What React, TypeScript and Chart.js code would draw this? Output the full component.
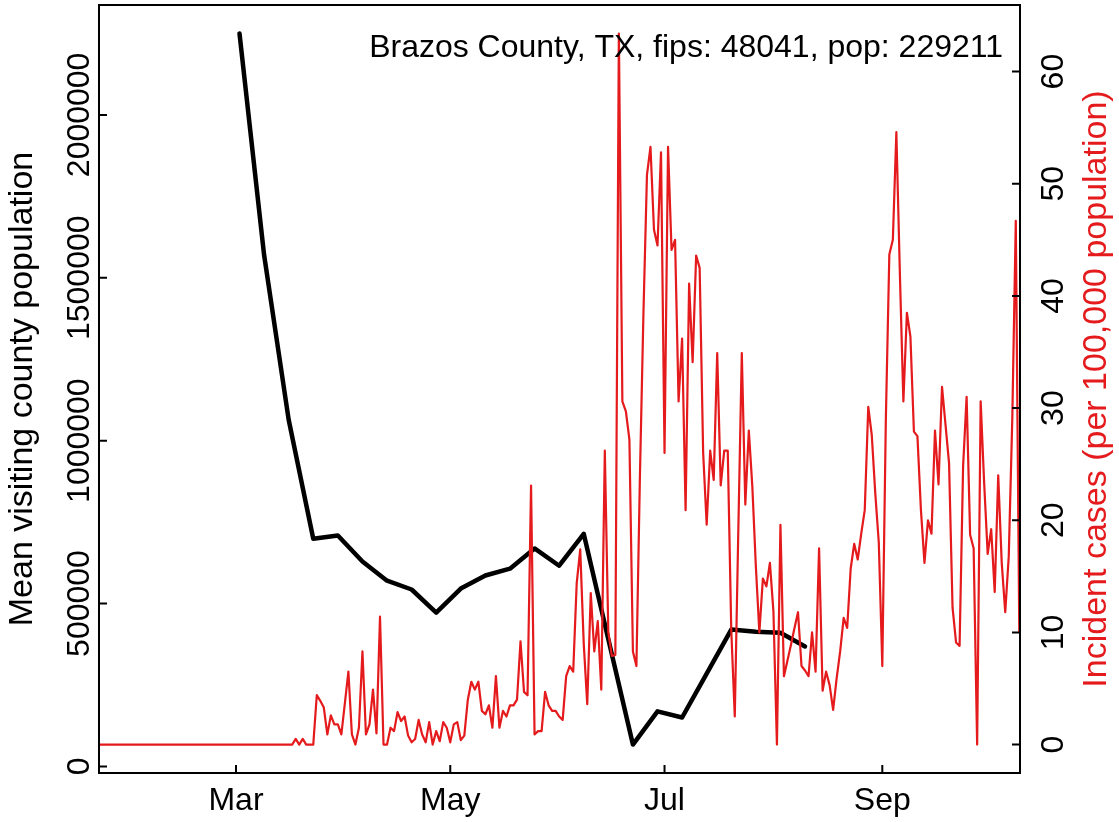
import React, { useEffect, useRef } from "react";
import { Chart, registerables } from "chart.js";

Chart.register(...registerables);

// Day numbers are counted from 1 March 2020 (day 0). The case series starts on 22 Jan 2020.
const caseStartDay = -39;

// Incident cases per 100,000 population, one value per day (22 Jan .. 10 Oct)
const incidentCases = [
  0, 0, 0, 0, 0, 0, 0, 0, 0, 0,
  0, 0, 0, 0, 0, 0, 0, 0, 0, 0,
  0, 0, 0, 0, 0, 0, 0, 0, 0, 0,
  0, 0, 0, 0, 0, 0, 0, 0, 0, 0,
  0, 0, 0, 0, 0, 0, 0, 0, 0, 0,
  0, 0, 0, 0, 0, 0,
  0.5, 0, 0.5, 0, 0, 0, 4.4, 3.9, 3.3, 0.9, 2.6, 1.8, 1.8, 0.9,
  3.7, 6.5, 0.9, 0, 1.5, 8.3, 0.9, 1.8, 4.9, 1.0,
  11.4, 0, 0, 1.5, 1.2, 2.9, 2.1, 2.5, 0.8, 0.2,
  0.5, 2.2, 0.9, 0.2, 2.0, 0, 1.2, 0.3, 2.0, 1.5,
  0.2, 1.8, 2.0, 0.4, 0.8, 4.0, 5.6, 4.9, 5.6, 3.0,
  2.7, 3.5, 1.5, 6.1, 1.5, 3.0, 2.5, 3.5, 3.5, 4.0,
  9.2, 4.7, 4.4, 23.1, 0.9, 1.2, 1.2, 4.7, 3.5, 3.0,
  3.0, 2.5, 2.2, 6.1, 7.0, 6.5, 14.4, 17.4, 9.0, 3.6,
  13.5, 8.3, 11.0, 4.9, 26.2, 10, 7.9, 8, 63.4, 30.6,
  29.7, 27.2, 8.3, 7.0, 24, 38.5, 50.8, 53.3, 45.9, 44.5,
  52.8, 26, 53.3, 44.1, 45, 30.6, 36.2, 20.9, 41.1, 34.1,
  43.6, 42.5, 26, 19.6, 26.2, 23.6, 34.9, 23.1, 26.2, 26.2,
  10.2, 2.5, 19, 34.9, 21.4, 28, 23, 15.9, 10, 14.8,
  14.1, 16.2, 11.9, 0, 19.6, 6.1, 7.5, 8.9, 10.4, 11.8,
  7, 6.6, 6.1, 10, 6.5, 17.5, 4.8, 6.5, 5.3, 3.1,
  5.9, 8.3, 11.3, 10.4, 15.7, 17.9, 16.5, 18.8, 20.9, 30.1,
  27.6, 22.4, 18, 7, 28.9, 43.7, 45, 54.6, 42, 30.6,
  38.5, 36.4, 27.9, 27.5, 20.9, 16.2, 20, 18.8, 28, 23.2,
  31.9, 28.5, 25.1, 12.2, 9.1, 8.8, 24.8, 31, 18.7, 17.5,
  0, 30.6, 23.3, 17, 19.2, 13.6, 24, 16.2, 11.8, 16.8,
  29, 46.7, 10,
];

// Weekly mean visiting county population
const visitDays = [1, 8, 15, 22, 29, 36, 43, 50, 57, 64, 71, 78, 85, 92, 99, 106, 113, 120, 127, 134, 141, 148, 155, 162];
const visitValues = [
  2250000, 1570000, 1064000, 699000, 709000, 629000, 570000, 543000, 472000, 546000,
  586000, 607000, 669000, 616000, 714000, 390000, 67000, 169000, 150000, 285000,
  420000, 413000, 410000, 368000,
];

const monthTickDays = [0, 61, 122, 184];
const monthTickLabels = ["Mar", "May", "Jul", "Sep"];
const leftTicks = [0, 500000, 1000000, 1500000, 2000000];
const rightTicks = [0, 10, 20, 30, 40, 50, 60];

const leftTitle = "Mean visiting county population";
const rightTitle = "Incident cases (per 100,000 population)";
const annotation = "Brazos County, TX, fips: 48041, pop: 229211";

const RED = "#E41A1C";
const FAMILY = '"Liberation Sans", Arial, Helvetica, sans-serif';
const FONT = `32px ${FAMILY}`;
const TITLE_FONT = `34px ${FAMILY}`;

const decorations = {
  id: "rDecorations",
  afterDatasetsDraw(chart: any) {
    const { ctx, chartArea: a, scales } = chart;
    const xs = scales.x;
    const yl = scales.yLeft;
    const yr = scales.yRight;
    ctx.save();
    ctx.strokeStyle = "#000";
    ctx.lineWidth = 2;
    ctx.strokeRect(a.left, a.top, a.right - a.left, a.bottom - a.top);
    const tick = 8;
    ctx.beginPath();
    monthTickDays.forEach((d) => {
      const px = xs.getPixelForValue(d);
      ctx.moveTo(px, a.bottom);
      ctx.lineTo(px, a.bottom - tick);
    });
    leftTicks.forEach((v) => {
      const py = yl.getPixelForValue(v);
      ctx.moveTo(a.left, py);
      ctx.lineTo(a.left + tick, py);
    });
    rightTicks.forEach((v) => {
      const py = yr.getPixelForValue(v);
      ctx.moveTo(a.right, py);
      ctx.lineTo(a.right - tick, py);
    });
    ctx.stroke();

    ctx.font = FONT;
    ctx.fillStyle = "#000";
    ctx.textBaseline = "alphabetic";
    ctx.textAlign = "center";
    monthTickDays.forEach((d, i) => {
      ctx.fillText(monthTickLabels[i], xs.getPixelForValue(d), 810);
    });
    const vtext = (txt: string, x: number, y: number, color: string, font: string) => {
      ctx.save();
      ctx.font = font;
      ctx.translate(x, y);
      ctx.rotate(-Math.PI / 2);
      ctx.fillStyle = color;
      ctx.textAlign = "center";
      ctx.fillText(txt, 0, 0);
      ctx.restore();
    };
    leftTicks.forEach((v) => vtext(String(v), 89, yl.getPixelForValue(v), "#000", FONT));
    rightTicks.forEach((v) => vtext(String(v), 1063, yr.getPixelForValue(v), "#000", FONT));
    const midY = (a.top + a.bottom) / 2;
    vtext(leftTitle, 32, midY, "#000", TITLE_FONT);
    vtext(rightTitle, 1106, midY, RED, TITLE_FONT);
    ctx.font = FONT;
    ctx.textAlign = "right";
    ctx.fillStyle = "#000";
    ctx.fillText(annotation, 1003, 57);
    ctx.restore();
  },
};

export default function App() {
  const ref = useRef<HTMLCanvasElement>(null);
  useEffect(() => {
    const canvas = ref.current;
    if (!canvas) return;
    const caseData = incidentCases.map((v, i) => ({ x: caseStartDay + i, y: v }));
    const visitData = visitValues.map((v, i) => ({ x: visitDays[i], y: v }));
    const chart = new Chart(canvas, {
      type: "line",
      data: {
        datasets: [
          {
            label: "Incident cases",
            data: caseData,
            yAxisID: "yRight",
            borderColor: RED,
            borderWidth: 2.2,
            pointRadius: 0,
            tension: 0,
            borderJoinStyle: "round",
            borderCapStyle: "round",
            fill: false,
          },
          {
            label: "Mean visiting county population",
            data: visitData,
            yAxisID: "yLeft",
            borderColor: "#000",
            borderWidth: 4.5,
            pointRadius: 0,
            tension: 0,
            borderJoinStyle: "round",
            borderCapStyle: "round",
            fill: false,
          },
        ],
      },
      options: {
        responsive: false,
        animation: false,
        devicePixelRatio: 1,
        layout: { padding: { left: 99, top: 5, right: 99, bottom: 49 } },
        plugins: { legend: { display: false }, tooltip: { enabled: false } },
        scales: {
          x: { type: "linear", min: -39, max: 223.2, display: false },
          yLeft: { type: "linear", position: "left", min: -20320, max: 2337320, display: false },
          yRight: { type: "linear", position: "right", min: -2.536, max: 65.94, display: false },
        },
      },
      plugins: [decorations],
    } as any);
    return () => chart.destroy();
  }, []);
  return (
    <div style={{ position: "absolute", left: 0, top: 0, width: 1119, height: 822, background: "#fff" }}>
      <canvas ref={ref} width={1119} height={822} style={{ display: "block", width: "1119px", height: "822px" }} />
    </div>
  );
}
